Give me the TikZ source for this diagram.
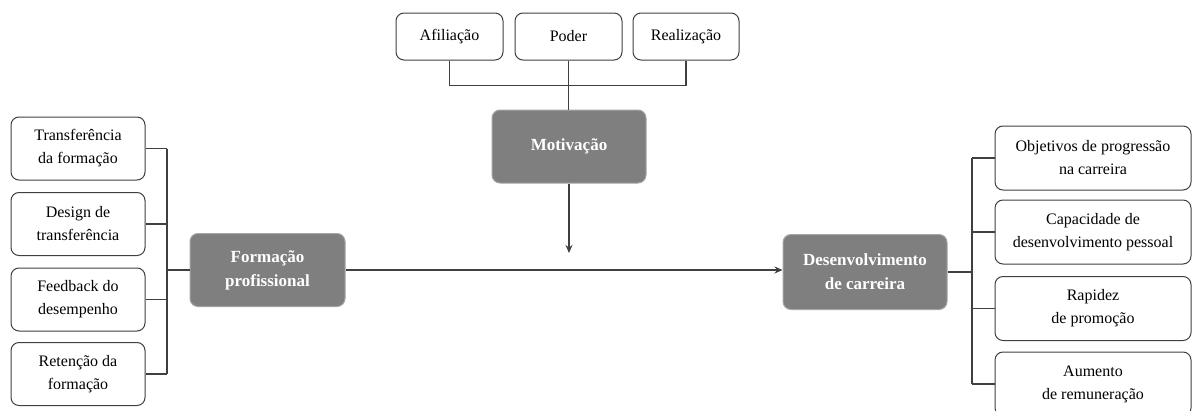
\documentclass[tikz,border=0pt]{standalone}
\usepackage{fontspec}
\setmainfont{Liberation Serif}
\usetikzlibrary{arrows.meta}

\definecolor{hubgray}{HTML}{7F7F7F}
\definecolor{linegray}{HTML}{404040}

\begin{document}
\begin{tikzpicture}[x=1pt,y=-1pt,
  leaf/.style={draw=linegray,line width=1pt,rounded corners=8pt,fill=white,
    align=center,inner sep=0pt,minimum width=#1,font=\fontsize{16}{23}\selectfont},
  leaf/.default=134pt,
  hub/.style={draw=hubgray!70,line width=1pt,rounded corners=8pt,fill=hubgray,
    text=white,align=center,inner sep=0pt,minimum height=73pt,
    font=\fontsize{17}{24}\selectfont\bfseries},
  link/.style={draw=linegray,line width=1.1pt},
  arr/.style={link,-{Stealth[length=8pt,width=7pt]}}]
  \useasboundingbox(0,0)rectangle(1192,410);
  \clip(0,0)rectangle(1192,410);
  % motivacao e os seus tres motivos
  \node[leaf=107pt,minimum height=47pt](afil)at(449.5,36.5){Afiliação};
  \node[leaf=107pt,minimum height=47pt](poder)at(568.5,36.5){Poder};
  \node[leaf=106pt,minimum height=47pt](realiz)at(686,36.5){Realização};
  \node[hub,minimum width=154pt](motiv)at(569,146.5){Motivação};
  % formacao profissional
  \node[hub,minimum width=155pt](form)at(267.5,270){Formação\\profissional};
  \node[leaf,minimum height=63pt](l1)at(78,148.5){Transferência\\da formação};
  \node[leaf,minimum height=63pt](l2)at(78,224){Design de\\transferência};
  \node[leaf,minimum height=63pt](l3)at(78,299.5){Feedback do\\desempenho};
  \node[leaf,minimum height=63pt](l4)at(78,374){Retenção da\\formação};
  % desenvolvimento de carreira
  \node[hub,minimum width=164pt,minimum height=75pt](desenv)at(865,272){Desenvolvimento\\de carreira};
  \node[leaf=196pt,minimum height=64pt](r1)at(1093,158){Objetivos de progressão\\na carreira};
  \node[leaf=196pt,minimum height=64pt](r2)at(1093,232){Capacidade de\\desenvolvimento pessoal};
  \node[leaf=196pt,minimum height=64pt](r3)at(1093,308.5){Rapidez\\de promoção};
  \node[leaf=196pt,minimum height=64pt](r4)at(1093,384){Aumento\\de remuneração};
  \coordinate(lbus)at(167,270);
  \coordinate(rbus)at(972,272);
  \coordinate(meet)at(569,253);
  % ligacoes
  \draw[link](afil.south)--++(0,25)-|(realiz.south);
  \draw[link](poder.south)--(poder.south|-motiv.north);
  \draw[arr](motiv.south)--(meet);
  \draw[arr](form.east)--(form.east-|desenv.west);
  \foreach \i in {1,...,4}{
    \draw[link](l\i.east)--(l\i.east-|lbus);
    \draw[link](r\i.west)--(r\i.west-|rbus);
  }
  \draw[link](l1.east-|lbus)--(l4.east-|lbus);
  \draw[link](lbus)--(form.west);
  \draw[link](r1.west-|rbus)--(r4.west-|rbus);
  \draw[link](desenv.east)--(rbus);
\end{tikzpicture}
\end{document}
